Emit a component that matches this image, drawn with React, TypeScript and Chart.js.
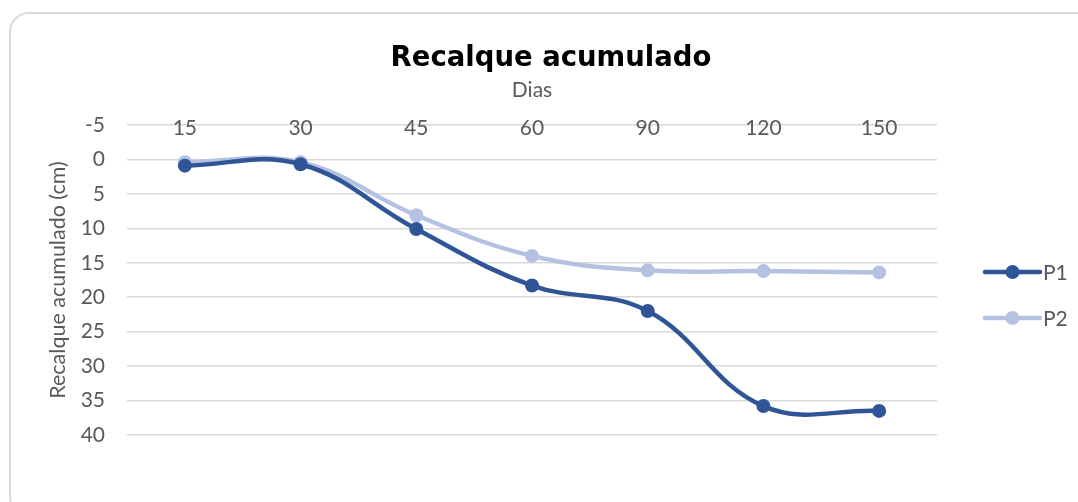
import React, { useEffect, useRef } from "react";
import { Chart, registerables } from "chart.js";

Chart.register(...registerables);

const categories = ["15", "30", "45", "60", "90", "120", "150"];
const p1Values = [0.9, 0.7, 10.1, 18.3, 22.0, 35.8, 36.5];
const p2Values = [0.4, 0.4, 8.1, 14.0, 16.1, 16.2, 16.4];
const seriesNames = ["P1", "P2"];
const seriesColors = ["#2f5597", "#b4c1e3"];
const yMin = -5;
const yMax = 40;
const yStep = 5;

const FONT = "Lato, 'Noto Sans', sans-serif";
const TITLE_FONT = "'DejaVu Sans', sans-serif";
const GREY = "#595959";

const customLegend = {
  id: "customLegend",
  afterDraw(chart: any) {
    const { ctx, chartArea } = chart;
    const midY = (chartArea.top + chartArea.bottom) / 2;
    chart.data.datasets.forEach((ds: any, i: number) => {
      const y = midY - 8 + i * 46;
      const x0 = chartArea.right + 48;
      const x1 = x0 + 55;
      ctx.save();
      ctx.strokeStyle = ds.borderColor;
      ctx.lineWidth = 4.5;
      ctx.lineCap = "round";
      ctx.beginPath();
      ctx.moveTo(x0, y);
      ctx.lineTo(x1, y);
      ctx.stroke();
      ctx.fillStyle = ds.borderColor;
      ctx.beginPath();
      ctx.arc((x0 + x1) / 2, y, 7, 0, Math.PI * 2);
      ctx.fill();
      ctx.fillStyle = GREY;
      ctx.font = `21px ${FONT}`;
      ctx.textBaseline = "middle";
      ctx.textAlign = "left";
      ctx.fillText(ds.label, x1 + 3, y + 1);
      ctx.restore();
    });
  },
};

export default function App() {
  const ref = useRef<HTMLCanvasElement>(null);
  useEffect(() => {
    if (!ref.current) return;
    const values = [p1Values, p2Values];
    const chart = new Chart(ref.current, {
      type: "line",
      data: {
        labels: categories,
        datasets: seriesNames.map((name, i) => ({
          label: name,
          data: values[i],
          borderColor: seriesColors[i],
          backgroundColor: seriesColors[i],
          borderWidth: 4.5,
          pointRadius: 7,
          pointHoverRadius: 7,
          pointBorderWidth: 0,
          pointBackgroundColor: seriesColors[i],
          tension: 0.4,
          fill: false,
          clip: false as any,
          order: i === 0 ? 1 : 2,
        })),
      },
      options: {
        animation: false,
        responsive: false,
        maintainAspectRatio: false,
        layout: { padding: { top: 0, left: 24, right: 0, bottom: 67 } },
        plugins: {
          legend: { display: false },
          tooltip: { enabled: false },
          title: {
            display: true,
            text: "Recalque acumulado",
            color: "#000000",
            font: { family: TITLE_FONT, size: 27.5, weight: "bold" },
            padding: { top: 42.5, bottom: 0 },
          },
        },
        scales: {
          x: {
            position: "top",
            offset: true,
            grid: { display: false, drawTicks: false, tickLength: 0 },
            border: { display: false },
            ticks: {
              color: GREY,
              font: { family: FONT, size: 21 },
              mirror: true,
              padding: -9.6,
            },
            title: {
              display: true,
              text: "Dias",
              color: GREY,
              font: { family: FONT, size: 21 },
              padding: { top: 1.9, bottom: 0 },
            },
            afterFit: (scale: any) => {
              scale.height = 49.5;
            },
          },
          y: {
            reverse: true,
            min: yMin,
            max: yMax,
            grid: { color: "#d9d9d9", lineWidth: 1.5, drawTicks: false, tickLength: 0 },
            border: { display: false },
            ticks: {
              stepSize: yStep,
              color: GREY,
              font: { family: FONT, size: 21 },
              padding: 22,
            },
            title: {
              display: true,
              text: "Recalque acumulado (cm)",
              color: GREY,
              font: { family: FONT, size: 21.5 },
              padding: { top: 21, bottom: 0 },
            },
            afterFit: (scale: any) => {
              scale.width = 103;
            },
          },
          legendSpace: {
            type: "linear",
            position: "right",
            display: true,
            min: 0,
            max: 1,
            grid: { display: false, drawTicks: false },
            border: { display: false },
            ticks: { display: false },
            afterFit: (scale: any) => {
              scale.width = 141;
            },
          } as any,
        },
      },
      plugins: [customLegend],
    });
    return () => chart.destroy();
  }, []);

  return (
    <div
      style={{
        position: "fixed",
        left: 0,
        top: 0,
        width: 1078,
        height: 502,
        overflow: "hidden",
        background: "#ffffff",
      }}
    >
      <div
        style={{
          position: "absolute",
          left: 9,
          top: 12,
          width: 1090,
          height: 505,
          border: "2px solid #d9d9d9",
          borderRadius: 20,
          boxSizing: "border-box",
        }}
      />
      <canvas
        ref={ref}
        width={1078}
        height={502}
        style={{ position: "absolute", left: 0, top: 0, width: 1078, height: 502 }}
      />
    </div>
  );
}
